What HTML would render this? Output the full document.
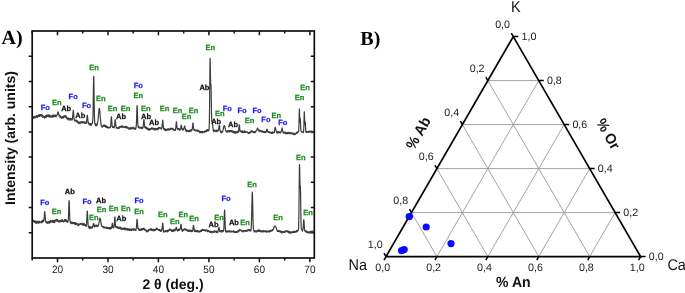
<!DOCTYPE html>
<html><head><meta charset="utf-8"><style>
html,body{margin:0;padding:0;background:#fff;width:685px;height:293px;overflow:hidden}
svg{display:block;will-change:transform}
text{font-family:"Liberation Sans",sans-serif;text-rendering:geometricPrecision}
.tl{font-size:10.6px;fill:#1a1a1a;text-anchor:middle}
.ax{font-size:14px;font-weight:bold;fill:#111;text-anchor:middle}
.tx{font-size:14.8px}
.pl{font-family:"Liberation Serif",serif;font-size:20px;font-weight:bold;fill:#000}
.pk{font-size:7.5px;font-weight:bold;text-anchor:middle;stroke-width:0.25}
.tt{font-size:10.7px;fill:#1a1a1a;text-anchor:middle}
.cn{font-size:15.5px;fill:#111;text-anchor:middle}
</style></head><body>
<svg width="685" height="293" viewBox="0 0 685 293">
<rect x="32.2" y="31.0" width="282.1" height="227.0" fill="none" stroke="#111" stroke-width="1.7"/>
<path d="M32.2 258.0v2.4 M32.2 31.0v2.4 M57.5 258.0v4.2 M57.5 31.0v4.2 M82.7 258.0v2.4 M82.7 31.0v2.4 M108.0 258.0v4.2 M108.0 31.0v4.2 M133.2 258.0v2.4 M133.2 31.0v2.4 M158.4 258.0v4.2 M158.4 31.0v4.2 M183.7 258.0v2.4 M183.7 31.0v2.4 M208.9 258.0v4.2 M208.9 31.0v4.2 M234.2 258.0v2.4 M234.2 31.0v2.4 M259.4 258.0v4.2 M259.4 31.0v4.2 M284.7 258.0v2.4 M284.7 31.0v2.4 M309.9 258.0v4.2 M309.9 31.0v4.2 M32.2 232.8h-3.5 M314.3 232.8h-3.5 M32.2 207.6h-3.5 M314.3 207.6h-3.5 M32.2 182.3h-3.5 M314.3 182.3h-3.5 M32.2 157.1h-3.5 M314.3 157.1h-3.5 M32.2 131.9h-3.5 M314.3 131.9h-3.5 M32.2 106.7h-3.5 M314.3 106.7h-3.5 M32.2 81.4h-3.5 M314.3 81.4h-3.5 M32.2 56.2h-3.5 M314.3 56.2h-3.5" stroke="#111" stroke-width="1.5" fill="none"/>
<text transform="translate(57.5 272.5) scale(0.95 1)" class="tl">20</text>
<text transform="translate(108.0 272.5) scale(0.95 1)" class="tl">30</text>
<text transform="translate(158.4 272.5) scale(0.95 1)" class="tl">40</text>
<text transform="translate(208.9 272.5) scale(0.95 1)" class="tl">50</text>
<text transform="translate(259.4 272.5) scale(0.95 1)" class="tl">60</text>
<text transform="translate(309.9 272.5) scale(0.95 1)" class="tl">70</text>
<text x="173" y="289.3" class="ax">2 θ (deg.)</text>
<text transform="translate(15.4 138) rotate(-90)" class="ax">Intensity (arb. units)</text>
<text x="1.5" y="44.1" class="pl">A)</text>
<text x="360.3" y="45" class="pl">B)</text>
<path d="M33.00 117.68 L33.17 118.32 L33.34 118.06 L33.51 116.84 L33.68 117.01 L33.85 118.28 L34.02 116.33 L34.19 118.09 L34.36 117.97 L34.53 117.17 L34.70 116.73 L34.87 116.58 L35.04 116.42 L35.21 116.73 L35.38 116.76 L35.55 116.79 L35.72 117.68 L35.89 117.18 L36.06 116.77 L36.23 117.53 L36.40 115.80 L36.57 115.65 L36.74 116.60 L36.91 115.34 L37.08 115.31 L37.25 116.38 L37.42 116.28 L37.59 117.31 L37.76 116.64 L37.93 116.38 L38.10 116.30 L38.27 115.73 L38.44 115.13 L38.61 115.44 L38.78 116.44 L38.95 115.25 L39.12 115.52 L39.29 114.61 L39.46 116.36 L39.63 114.78 L39.80 114.92 L39.97 116.18 L40.14 115.31 L40.31 115.98 L40.48 115.52 L40.65 115.71 L40.82 114.26 L40.99 115.27 L41.16 115.22 L41.33 116.06 L41.50 115.02 L41.67 115.61 L41.84 114.55 L42.01 115.41 L42.18 115.38 L42.35 115.14 L42.52 116.73 L42.69 115.92 L42.86 117.34 L43.03 116.66 L43.20 116.82 L43.37 117.02 L43.54 117.24 L43.71 116.20 L43.88 116.94 L44.05 116.55 L44.22 116.95 L44.39 116.30 L44.56 118.16 L44.73 116.49 L44.90 117.40 L45.07 116.53 L45.24 117.67 L45.41 117.09 L45.58 115.82 L45.75 117.22 L45.92 117.30 L46.09 117.11 L46.26 116.25 L46.43 115.20 L46.60 115.24 L46.77 116.73 L46.94 115.85 L47.11 114.99 L47.28 116.45 L47.45 115.93 L47.62 115.78 L47.79 115.38 L47.96 115.45 L48.13 115.14 L48.30 114.76 L48.47 116.61 L48.64 115.81 L48.81 116.02 L48.98 115.58 L49.15 116.53 L49.32 115.02 L49.49 115.81 L49.66 115.08 L49.83 115.35 L50.00 117.18 L50.17 116.55 L50.34 116.06 L50.51 116.30 L50.68 117.04 L50.85 115.92 L51.02 116.43 L51.19 116.65 L51.36 115.94 L51.53 116.29 L51.70 116.84 L51.87 117.13 L52.04 115.52 L52.21 117.20 L52.38 115.21 L52.55 116.81 L52.72 116.90 L52.89 115.45 L53.06 116.05 L53.23 116.86 L53.40 115.11 L53.57 116.37 L53.74 116.67 L53.91 116.03 L54.08 116.45 L54.25 115.34 L54.42 115.27 L54.59 115.58 L54.76 115.10 L54.93 115.44 L55.10 116.65 L55.27 115.87 L55.44 115.38 L55.61 115.20 L55.78 116.57 L55.95 115.47 L56.12 116.58 L56.29 115.51 L56.46 115.43 L56.63 116.08 L56.80 115.58 L56.97 114.97 L57.14 114.30 L57.31 114.39 L57.48 113.13 L57.65 112.74 L57.82 111.93 L57.99 111.80 L58.00 111.80 L58.16 112.06 L58.33 112.42 L58.50 113.51 L58.67 114.16 L58.84 114.86 L59.01 115.17 L59.18 116.22 L59.35 115.22 L59.52 115.55 L59.69 115.38 L59.86 115.28 L60.03 115.76 L60.20 117.40 L60.37 117.39 L60.54 116.06 L60.71 117.25 L60.88 117.11 L61.05 117.45 L61.22 117.68 L61.39 117.05 L61.56 118.44 L61.73 117.48 L61.90 117.82 L62.07 117.82 L62.24 116.87 L62.41 116.60 L62.58 117.25 L62.75 117.92 L62.92 117.95 L63.09 117.70 L63.26 116.31 L63.43 117.87 L63.60 117.52 L63.77 117.60 L63.94 116.75 L64.11 117.49 L64.28 115.65 L64.45 115.56 L64.62 115.53 L64.79 116.00 L64.96 115.96 L65.13 115.88 L65.30 116.73 L65.47 115.73 L65.64 116.97 L65.81 116.20 L65.98 117.38 L66.15 116.20 L66.32 116.97 L66.49 118.42 L66.66 117.78 L66.83 118.53 L67.00 118.39 L67.17 118.47 L67.34 117.79 L67.51 118.72 L67.68 117.78 L67.85 119.44 L68.02 119.88 L68.19 119.77 L68.36 118.21 L68.53 118.85 L68.70 118.86 L68.87 118.47 L69.04 119.54 L69.21 119.90 L69.38 118.92 L69.55 119.99 L69.72 119.83 L69.89 118.45 L70.06 119.77 L70.23 120.03 L70.40 118.66 L70.57 119.45 L70.74 119.58 L70.91 119.56 L71.08 118.54 L71.25 119.67 L71.42 119.64 L71.59 120.05 L71.76 120.02 L71.93 119.04 L72.10 119.79 L72.27 119.87 L72.44 119.40 L72.61 117.08 L72.78 115.23 L72.95 113.54 L73.12 111.18 L73.29 110.29 L73.30 110.29 L73.46 111.15 L73.63 113.23 L73.80 115.85 L73.97 118.14 L74.14 118.40 L74.31 119.55 L74.48 119.38 L74.65 120.62 L74.82 121.08 L74.99 120.27 L75.16 120.33 L75.33 120.75 L75.50 120.19 L75.67 120.33 L75.84 120.57 L76.01 120.88 L76.18 120.21 L76.35 121.64 L76.52 121.34 L76.69 120.85 L76.86 120.50 L77.03 122.00 L77.20 120.84 L77.37 121.00 L77.54 121.12 L77.71 121.17 L77.88 122.96 L78.05 121.86 L78.22 122.07 L78.39 123.23 L78.56 122.92 L78.73 122.18 L78.90 122.73 L79.07 123.68 L79.24 122.70 L79.41 123.39 L79.58 122.18 L79.75 123.42 L79.92 123.48 L80.09 123.52 L80.26 123.16 L80.43 122.49 L80.60 121.84 L80.77 122.60 L80.94 122.98 L81.11 121.77 L81.28 121.86 L81.45 122.28 L81.62 122.63 L81.79 122.85 L81.96 121.30 L82.13 121.38 L82.30 122.54 L82.47 122.24 L82.64 122.36 L82.81 122.91 L82.98 122.82 L83.15 122.68 L83.32 122.56 L83.49 121.88 L83.66 122.43 L83.83 121.58 L84.00 122.74 L84.17 122.85 L84.34 122.89 L84.51 122.44 L84.68 122.38 L84.85 122.53 L85.02 121.86 L85.19 123.49 L85.36 122.97 L85.53 122.71 L85.70 123.02 L85.87 123.36 L86.04 122.70 L86.21 123.43 L86.38 123.25 L86.55 121.59 L86.72 119.97 L86.89 118.78 L87.06 116.73 L87.23 115.27 L87.30 115.16 L87.40 115.47 L87.57 117.14 L87.74 118.64 L87.91 120.26 L88.08 122.89 L88.25 122.10 L88.42 122.56 L88.59 123.52 L88.76 123.42 L88.93 124.18 L89.10 123.26 L89.27 124.81 L89.44 123.61 L89.61 124.78 L89.78 123.55 L89.95 124.43 L90.12 123.64 L90.29 124.23 L90.46 124.24 L90.63 125.04 L90.80 124.52 L90.97 123.69 L91.14 125.44 L91.31 125.16 L91.48 125.11 L91.65 123.70 L91.82 123.86 L91.99 123.43 L92.16 123.06 L92.33 122.64 L92.50 123.10 L92.67 121.35 L92.84 118.89 L93.01 114.55 L93.18 104.77 L93.35 92.46 L93.52 81.40 L93.69 76.26 L93.70 76.24 L93.86 80.36 L94.03 91.33 L94.20 103.82 L94.37 113.47 L94.54 119.16 L94.71 122.81 L94.88 124.22 L95.05 123.45 L95.22 123.62 L95.39 123.78 L95.56 125.59 L95.73 125.63 L95.90 124.38 L96.07 125.87 L96.24 124.47 L96.41 125.03 L96.58 125.00 L96.75 125.72 L96.92 123.94 L97.09 124.21 L97.26 124.35 L97.43 122.85 L97.60 122.35 L97.77 121.66 L97.94 120.88 L98.11 119.08 L98.28 117.24 L98.45 115.13 L98.62 113.07 L98.79 111.25 L98.96 109.68 L99.13 108.69 L99.30 108.36 L99.30 108.36 L99.47 108.76 L99.64 109.74 L99.81 111.51 L99.98 113.37 L100.15 115.29 L100.32 117.96 L100.49 119.10 L100.66 121.27 L100.83 122.10 L101.00 124.64 L101.17 124.88 L101.34 125.92 L101.51 125.45 L101.68 126.66 L101.85 126.62 L102.02 126.60 L102.19 127.17 L102.36 126.18 L102.53 126.10 L102.70 126.53 L102.87 126.76 L103.04 125.73 L103.21 126.28 L103.38 125.35 L103.55 125.91 L103.72 126.22 L103.89 124.86 L104.06 126.10 L104.23 124.75 L104.40 126.52 L104.57 125.65 L104.74 125.61 L104.91 126.28 L105.08 126.03 L105.25 126.54 L105.42 125.45 L105.59 126.50 L105.76 126.61 L105.93 127.38 L106.10 125.84 L106.27 126.71 L106.44 127.16 L106.61 127.09 L106.78 126.27 L106.95 127.29 L107.12 126.67 L107.29 126.64 L107.46 127.94 L107.63 126.70 L107.80 127.19 L107.97 127.77 L108.14 127.67 L108.31 127.40 L108.48 127.88 L108.65 127.24 L108.82 127.58 L108.99 128.00 L109.16 127.75 L109.33 127.68 L109.50 127.27 L109.67 127.58 L109.84 127.28 L110.01 127.90 L110.18 127.15 L110.35 127.11 L110.52 127.08 L110.69 125.51 L110.86 123.31 L111.03 121.04 L111.20 118.15 L111.37 116.81 L111.40 116.77 L111.54 117.49 L111.71 119.92 L111.88 122.07 L112.05 124.60 L112.22 126.72 L112.39 126.93 L112.56 127.14 L112.73 127.41 L112.90 127.47 L113.07 127.31 L113.24 127.02 L113.41 126.59 L113.58 126.80 L113.75 126.81 L113.92 127.04 L114.09 128.01 L114.26 126.65 L114.43 126.23 L114.60 124.95 L114.77 123.37 L114.94 121.42 L115.11 119.82 L115.20 119.57 L115.28 119.75 L115.45 121.33 L115.62 123.30 L115.79 125.47 L115.96 125.88 L116.13 127.89 L116.30 127.22 L116.47 127.67 L116.64 127.25 L116.81 127.66 L116.98 128.47 L117.15 128.49 L117.32 127.85 L117.49 128.44 L117.66 127.89 L117.83 127.78 L118.00 128.11 L118.17 127.49 L118.34 127.67 L118.51 128.40 L118.68 128.47 L118.85 127.12 L119.02 128.28 L119.19 128.33 L119.36 127.53 L119.53 126.72 L119.70 127.76 L119.87 126.85 L120.04 127.44 L120.21 126.83 L120.38 127.22 L120.55 126.43 L120.72 126.79 L120.89 126.83 L121.06 126.99 L121.23 126.15 L121.40 127.51 L121.57 126.24 L121.74 126.28 L121.91 126.18 L122.08 125.88 L122.25 126.52 L122.42 127.18 L122.59 127.12 L122.76 126.21 L122.93 126.14 L123.10 126.49 L123.27 127.34 L123.44 126.84 L123.61 127.65 L123.78 127.14 L123.95 127.07 L124.12 127.36 L124.29 127.40 L124.46 126.68 L124.63 126.57 L124.80 126.93 L124.97 127.04 L125.14 126.43 L125.31 127.02 L125.48 127.40 L125.65 126.56 L125.82 126.57 L125.99 126.66 L126.16 126.91 L126.33 128.19 L126.50 126.57 L126.67 126.94 L126.84 126.97 L127.01 127.58 L127.18 126.82 L127.35 127.65 L127.52 127.19 L127.69 127.47 L127.86 128.48 L128.03 127.48 L128.20 128.33 L128.37 128.03 L128.54 128.10 L128.71 128.90 L128.88 127.81 L129.05 129.26 L129.22 129.27 L129.39 128.87 L129.56 127.74 L129.73 128.88 L129.90 128.74 L130.07 129.01 L130.24 127.99 L130.41 129.24 L130.58 129.02 L130.75 127.53 L130.92 127.78 L131.09 127.22 L131.26 128.56 L131.43 128.62 L131.60 128.68 L131.77 127.96 L131.94 127.99 L132.11 128.02 L132.28 127.85 L132.45 128.56 L132.62 128.02 L132.79 127.59 L132.96 127.99 L133.13 127.18 L133.30 128.56 L133.47 128.63 L133.64 128.23 L133.81 129.11 L133.98 129.02 L134.15 128.31 L134.32 127.88 L134.49 127.98 L134.66 128.11 L134.83 128.33 L135.00 128.55 L135.17 129.37 L135.34 128.14 L135.51 129.12 L135.68 128.64 L135.85 128.74 L136.02 127.52 L136.19 125.84 L136.36 124.92 L136.53 120.31 L136.70 114.87 L136.87 109.51 L137.04 105.89 L137.10 105.59 L137.21 106.51 L137.38 111.12 L137.55 116.52 L137.72 121.95 L137.89 124.30 L138.06 127.02 L138.23 126.52 L138.40 127.45 L138.57 126.66 L138.74 127.60 L138.91 128.12 L139.08 126.79 L139.25 127.14 L139.42 128.02 L139.59 127.76 L139.76 127.22 L139.93 127.75 L140.10 127.47 L140.27 128.23 L140.44 127.26 L140.61 128.13 L140.78 127.93 L140.95 128.18 L141.12 127.58 L141.29 128.21 L141.46 128.19 L141.63 127.67 L141.80 127.06 L141.97 128.74 L142.14 128.31 L142.31 127.43 L142.48 128.31 L142.65 127.47 L142.82 127.63 L142.99 127.91 L143.16 126.45 L143.33 124.82 L143.50 122.89 L143.67 120.82 L143.84 119.68 L143.90 119.59 L144.01 119.91 L144.18 121.31 L144.35 123.49 L144.52 124.88 L144.69 126.72 L144.86 127.63 L145.03 126.82 L145.20 127.44 L145.37 127.41 L145.54 126.77 L145.71 126.95 L145.88 128.38 L146.05 127.74 L146.22 128.46 L146.39 127.29 L146.56 128.32 L146.73 128.93 L146.90 129.05 L147.07 127.65 L147.24 128.65 L147.41 128.52 L147.58 129.35 L147.75 128.24 L147.92 128.69 L148.09 129.70 L148.26 129.14 L148.43 129.19 L148.60 130.16 L148.77 129.08 L148.94 128.62 L149.11 129.24 L149.28 128.82 L149.45 128.66 L149.62 129.45 L149.79 130.08 L149.96 129.40 L150.13 129.46 L150.30 128.81 L150.47 129.15 L150.64 129.32 L150.81 128.93 L150.98 129.22 L151.15 128.74 L151.32 128.09 L151.49 128.70 L151.66 128.53 L151.83 127.97 L152.00 128.77 L152.17 129.11 L152.34 127.94 L152.51 128.67 L152.68 129.03 L152.85 128.52 L153.02 128.34 L153.19 128.56 L153.36 128.93 L153.53 129.24 L153.70 129.06 L153.87 128.31 L154.04 129.60 L154.21 129.84 L154.38 128.47 L154.55 128.77 L154.72 128.67 L154.89 129.84 L155.06 129.94 L155.23 128.42 L155.40 128.92 L155.57 128.70 L155.74 129.18 L155.91 129.97 L156.08 128.49 L156.25 128.62 L156.42 129.13 L156.59 129.17 L156.76 129.49 L156.93 128.91 L157.10 128.34 L157.27 128.64 L157.44 129.67 L157.61 129.22 L157.78 128.08 L157.95 129.19 L158.12 128.25 L158.29 128.99 L158.46 127.62 L158.63 129.04 L158.80 127.78 L158.97 128.25 L159.14 128.57 L159.31 128.26 L159.48 127.68 L159.65 127.63 L159.82 127.89 L159.99 127.51 L160.16 127.82 L160.33 127.76 L160.50 128.37 L160.67 128.25 L160.84 128.70 L161.01 128.21 L161.18 127.85 L161.35 128.36 L161.52 129.08 L161.69 128.09 L161.86 127.86 L162.03 127.33 L162.20 125.14 L162.37 123.18 L162.54 121.02 L162.70 120.20 L162.71 120.20 L162.88 121.11 L163.05 123.03 L163.22 125.42 L163.39 127.32 L163.56 128.86 L163.73 128.09 L163.90 129.25 L164.07 128.98 L164.24 128.49 L164.41 130.01 L164.58 129.64 L164.75 128.79 L164.92 130.23 L165.09 128.99 L165.26 129.05 L165.43 129.53 L165.60 130.62 L165.77 129.15 L165.94 130.68 L166.11 130.17 L166.28 129.22 L166.45 130.03 L166.62 129.73 L166.79 129.83 L166.96 130.05 L167.13 129.81 L167.30 130.24 L167.47 128.73 L167.64 129.76 L167.81 129.04 L167.98 129.62 L168.15 129.78 L168.32 129.93 L168.49 128.72 L168.66 129.09 L168.83 129.95 L169.00 129.99 L169.17 129.07 L169.34 130.07 L169.51 129.21 L169.68 129.14 L169.85 129.76 L170.02 129.23 L170.19 129.13 L170.36 128.95 L170.53 128.98 L170.70 128.39 L170.87 128.18 L171.04 129.25 L171.21 128.86 L171.38 128.99 L171.55 129.16 L171.72 128.18 L171.89 128.19 L172.06 128.28 L172.23 128.36 L172.40 129.24 L172.57 128.69 L172.74 128.72 L172.91 129.38 L173.08 128.75 L173.25 128.79 L173.42 129.93 L173.59 130.14 L173.76 129.52 L173.93 130.20 L174.10 129.30 L174.27 130.00 L174.44 130.32 L174.61 129.84 L174.78 130.02 L174.95 130.45 L175.12 130.38 L175.29 129.53 L175.46 130.10 L175.63 128.44 L175.80 128.20 L175.97 125.44 L176.14 123.43 L176.31 122.00 L176.40 121.79 L176.48 121.96 L176.65 123.38 L176.82 125.70 L176.99 127.63 L177.16 127.63 L177.33 128.92 L177.50 129.28 L177.67 129.51 L177.84 128.95 L178.01 128.95 L178.18 128.43 L178.35 128.52 L178.52 129.42 L178.69 128.70 L178.86 128.98 L179.03 129.28 L179.20 128.93 L179.37 128.96 L179.54 130.49 L179.71 129.69 L179.88 129.34 L180.05 130.15 L180.22 128.91 L180.39 129.00 L180.56 129.25 L180.73 128.00 L180.90 126.49 L181.07 125.40 L181.20 125.18 L181.24 125.20 L181.41 125.76 L181.58 126.60 L181.75 127.55 L181.92 128.88 L182.09 128.50 L182.26 128.74 L182.43 130.01 L182.60 129.13 L182.77 129.16 L182.94 128.79 L183.11 130.00 L183.28 129.84 L183.45 129.64 L183.62 129.69 L183.79 128.72 L183.96 128.50 L184.13 128.06 L184.30 127.21 L184.47 126.23 L184.60 125.98 L184.64 126.01 L184.81 126.46 L184.98 127.85 L185.15 128.18 L185.32 128.90 L185.49 130.17 L185.66 130.62 L185.83 130.76 L186.00 130.35 L186.17 129.98 L186.34 129.87 L186.51 131.27 L186.68 131.56 L186.85 130.41 L187.02 131.52 L187.19 130.83 L187.36 130.74 L187.53 131.09 L187.70 130.33 L187.87 131.06 L188.04 130.67 L188.21 131.48 L188.38 131.12 L188.55 131.69 L188.72 131.73 L188.89 130.74 L189.06 130.65 L189.23 131.71 L189.40 130.97 L189.57 130.28 L189.74 130.15 L189.91 131.62 L190.08 130.90 L190.25 130.02 L190.42 130.69 L190.59 130.62 L190.76 130.45 L190.93 131.22 L191.10 131.09 L191.27 129.68 L191.44 129.66 L191.61 129.98 L191.78 130.55 L191.95 130.01 L192.12 129.81 L192.29 128.78 L192.46 127.05 L192.63 125.75 L192.80 123.71 L192.97 122.91 L193.00 122.89 L193.14 123.38 L193.31 125.19 L193.48 126.92 L193.65 127.91 L193.82 129.36 L193.99 130.24 L194.16 129.52 L194.33 129.94 L194.50 129.60 L194.67 130.45 L194.84 130.22 L195.01 130.43 L195.18 130.12 L195.35 130.65 L195.52 129.85 L195.69 131.00 L195.86 131.06 L196.03 130.32 L196.20 130.29 L196.37 130.92 L196.54 130.02 L196.71 130.84 L196.88 130.02 L197.05 130.80 L197.22 130.22 L197.39 130.70 L197.56 131.29 L197.73 130.01 L197.90 131.30 L198.07 130.99 L198.24 130.80 L198.41 130.85 L198.58 130.51 L198.75 130.93 L198.92 131.62 L199.09 130.87 L199.26 131.87 L199.43 132.41 L199.60 132.52 L199.77 132.46 L199.94 132.39 L200.11 131.42 L200.28 132.74 L200.45 131.54 L200.62 132.66 L200.79 132.70 L200.96 132.30 L201.13 132.18 L201.30 131.64 L201.47 132.16 L201.64 131.83 L201.81 131.58 L201.98 131.62 L202.15 132.70 L202.32 132.86 L202.49 131.59 L202.66 131.36 L202.83 131.73 L203.00 131.47 L203.17 131.53 L203.34 132.16 L203.51 131.89 L203.68 131.90 L203.85 131.47 L204.02 132.14 L204.19 131.48 L204.36 131.61 L204.53 131.66 L204.70 132.33 L204.87 131.21 L205.04 131.90 L205.21 131.17 L205.38 132.01 L205.55 131.13 L205.72 131.22 L205.89 131.73 L206.06 131.34 L206.23 130.31 L206.40 130.26 L206.57 131.51 L206.74 129.92 L206.91 130.29 L207.08 131.27 L207.25 129.71 L207.42 129.95 L207.59 129.99 L207.76 129.80 L207.93 130.43 L208.10 130.63 L208.27 130.19 L208.44 129.85 L208.61 130.86 L208.78 130.71 L208.95 129.87 L209.12 127.85 L209.29 124.68 L209.46 116.16 L209.63 100.80 L209.80 81.27 L209.97 63.91 L210.10 58.29 L210.14 58.29 L210.31 65.81 L210.48 77.75 L210.65 84.33 L210.82 84.22 L210.99 84.41 L211.00 84.59 L211.16 90.89 L211.33 102.26 L211.50 113.26 L211.67 119.07 L211.84 121.47 L212.01 121.41 L212.18 121.19 L212.20 121.22 L212.35 121.88 L212.52 123.48 L212.69 125.37 L212.86 127.85 L213.03 128.68 L213.20 130.12 L213.37 130.24 L213.54 131.32 L213.71 131.46 L213.88 130.06 L214.05 131.59 L214.22 130.99 L214.39 130.13 L214.56 130.80 L214.73 130.04 L214.90 130.83 L215.07 130.24 L215.24 130.55 L215.41 130.48 L215.58 130.97 L215.75 131.33 L215.92 131.55 L216.09 130.59 L216.26 130.97 L216.43 130.08 L216.60 130.64 L216.77 131.55 L216.94 130.23 L217.11 131.35 L217.28 130.95 L217.45 130.34 L217.62 131.07 L217.79 130.25 L217.96 131.14 L218.13 129.75 L218.30 129.63 L218.47 130.20 L218.64 129.11 L218.81 127.73 L218.98 126.71 L219.15 125.52 L219.30 125.14 L219.32 125.15 L219.49 125.87 L219.66 126.93 L219.83 128.78 L220.00 130.52 L220.17 130.64 L220.34 131.57 L220.51 130.81 L220.68 132.24 L220.85 131.95 L221.02 132.56 L221.19 132.55 L221.36 132.81 L221.53 131.62 L221.70 132.67 L221.87 131.87 L222.04 131.92 L222.21 131.92 L222.38 132.10 L222.55 131.84 L222.72 131.80 L222.89 130.14 L223.06 129.73 L223.23 129.20 L223.40 128.73 L223.57 127.71 L223.74 126.91 L223.91 126.30 L224.08 125.81 L224.25 125.59 L224.30 125.58 L224.42 125.65 L224.59 126.01 L224.76 126.52 L224.93 127.01 L225.10 127.90 L225.27 128.60 L225.44 129.45 L225.61 130.08 L225.78 131.01 L225.95 130.65 L226.12 131.04 L226.29 131.51 L226.46 132.02 L226.63 131.81 L226.80 131.46 L226.97 131.96 L227.14 131.39 L227.31 132.10 L227.48 131.03 L227.65 130.73 L227.82 131.78 L227.99 130.93 L228.16 131.75 L228.33 131.34 L228.50 131.17 L228.67 130.53 L228.84 131.63 L229.01 130.50 L229.18 131.91 L229.35 131.78 L229.52 130.89 L229.69 130.60 L229.86 131.81 L230.03 131.16 L230.20 130.58 L230.37 131.14 L230.54 130.74 L230.71 130.98 L230.88 131.32 L231.05 131.75 L231.22 131.57 L231.39 130.57 L231.56 131.10 L231.73 131.16 L231.90 131.98 L232.07 130.62 L232.24 131.36 L232.41 132.07 L232.58 131.30 L232.75 131.15 L232.92 131.71 L233.09 131.43 L233.26 132.44 L233.43 131.22 L233.60 131.48 L233.77 131.35 L233.94 132.39 L234.11 131.81 L234.28 132.83 L234.45 132.90 L234.62 133.02 L234.79 131.98 L234.96 131.58 L235.13 132.22 L235.30 133.13 L235.47 132.83 L235.64 131.71 L235.81 132.69 L235.98 133.01 L236.15 133.06 L236.32 132.59 L236.49 132.75 L236.66 132.65 L236.83 131.82 L237.00 131.34 L237.17 132.28 L237.34 131.31 L237.51 131.63 L237.68 132.55 L237.85 131.86 L238.02 131.78 L238.19 132.37 L238.36 131.15 L238.53 131.61 L238.70 130.31 L238.87 128.09 L239.04 126.27 L239.21 124.98 L239.30 124.79 L239.38 124.95 L239.55 126.07 L239.72 128.36 L239.89 129.88 L240.06 131.10 L240.23 131.75 L240.40 130.94 L240.57 131.04 L240.74 131.66 L240.91 130.94 L241.08 131.61 L241.25 131.96 L241.42 131.81 L241.59 131.74 L241.76 130.89 L241.93 131.21 L242.10 132.30 L242.27 131.14 L242.44 131.82 L242.61 131.13 L242.78 132.58 L242.95 131.39 L243.12 131.78 L243.29 131.98 L243.46 132.24 L243.63 132.57 L243.80 132.20 L243.97 131.58 L244.14 131.10 L244.31 132.03 L244.48 132.43 L244.65 130.90 L244.82 132.03 L244.99 131.07 L245.16 131.44 L245.33 131.57 L245.50 131.70 L245.67 132.32 L245.84 131.89 L246.01 131.50 L246.18 132.06 L246.35 131.76 L246.52 131.75 L246.69 131.81 L246.86 132.12 L247.03 131.87 L247.20 131.91 L247.37 131.89 L247.54 132.44 L247.71 132.31 L247.88 133.25 L248.05 133.33 L248.22 132.61 L248.39 133.08 L248.56 133.52 L248.73 132.69 L248.90 132.96 L249.07 132.74 L249.24 132.98 L249.41 133.40 L249.58 132.02 L249.75 133.21 L249.92 132.60 L250.09 132.69 L250.26 132.29 L250.43 132.54 L250.60 131.55 L250.77 132.01 L250.94 131.21 L251.11 131.51 L251.28 131.72 L251.45 130.93 L251.62 130.68 L251.79 131.84 L251.96 131.89 L252.13 131.68 L252.30 131.23 L252.47 131.85 L252.64 131.05 L252.81 132.06 L252.98 132.03 L253.15 132.17 L253.32 132.04 L253.49 131.80 L253.66 132.65 L253.83 132.33 L254.00 132.79 L254.17 132.21 L254.34 131.74 L254.51 132.39 L254.68 132.43 L254.85 132.81 L255.02 132.64 L255.19 131.25 L255.36 132.23 L255.53 131.28 L255.70 131.78 L255.87 131.11 L256.04 130.85 L256.21 130.91 L256.38 130.80 L256.55 130.83 L256.72 130.41 L256.89 129.97 L257.06 129.09 L257.23 128.60 L257.40 128.07 L257.50 128.00 L257.57 128.03 L257.74 128.42 L257.91 128.65 L258.08 129.56 L258.25 129.61 L258.42 130.03 L258.59 129.68 L258.76 130.66 L258.93 131.10 L259.10 130.34 L259.27 130.04 L259.44 130.94 L259.61 130.25 L259.78 131.50 L259.95 130.35 L260.12 130.77 L260.29 131.05 L260.46 130.50 L260.63 130.89 L260.80 130.87 L260.97 131.59 L261.14 132.05 L261.31 131.12 L261.48 131.76 L261.65 130.76 L261.82 131.49 L261.99 131.26 L262.16 131.00 L262.33 131.85 L262.50 131.79 L262.67 130.82 L262.84 131.08 L263.01 131.92 L263.18 132.25 L263.35 131.70 L263.52 132.19 L263.69 132.45 L263.86 132.15 L264.03 132.07 L264.20 131.46 L264.37 131.75 L264.54 132.19 L264.71 132.67 L264.88 131.75 L265.05 131.89 L265.22 131.31 L265.39 132.36 L265.56 131.90 L265.73 132.41 L265.90 131.46 L266.07 131.94 L266.24 131.66 L266.41 130.91 L266.58 130.07 L266.75 129.58 L266.92 129.16 L267.00 129.09 L267.09 129.15 L267.26 129.62 L267.43 130.09 L267.60 131.21 L267.77 131.72 L267.94 132.20 L268.11 132.19 L268.28 131.97 L268.45 131.31 L268.62 132.34 L268.79 132.27 L268.96 132.36 L269.13 132.36 L269.30 132.64 L269.47 131.91 L269.64 132.58 L269.81 132.43 L269.98 132.21 L270.15 132.28 L270.32 132.10 L270.49 132.66 L270.66 132.52 L270.83 132.62 L271.00 133.31 L271.17 133.05 L271.34 133.03 L271.51 133.50 L271.68 132.28 L271.85 132.70 L272.02 132.07 L272.19 132.50 L272.36 133.33 L272.53 131.94 L272.70 132.98 L272.87 133.10 L273.04 132.60 L273.21 133.01 L273.38 132.51 L273.55 132.41 L273.72 132.67 L273.89 132.14 L274.06 132.22 L274.23 131.99 L274.40 132.45 L274.57 130.90 L274.74 129.82 L274.91 129.08 L275.08 127.80 L275.25 127.33 L275.30 127.29 L275.42 127.48 L275.59 128.20 L275.76 129.09 L275.93 129.93 L276.10 130.65 L276.27 131.45 L276.44 131.85 L276.61 132.76 L276.78 132.28 L276.95 133.00 L277.12 132.62 L277.29 131.77 L277.46 132.46 L277.63 131.93 L277.80 131.75 L277.97 133.12 L278.14 132.15 L278.31 131.94 L278.48 131.78 L278.65 132.62 L278.82 132.30 L278.99 131.61 L279.16 132.65 L279.33 131.93 L279.50 132.71 L279.67 132.28 L279.84 132.35 L280.01 132.21 L280.18 132.55 L280.35 133.03 L280.52 132.72 L280.69 131.60 L280.86 132.25 L281.03 131.83 L281.20 131.51 L281.37 131.27 L281.54 130.65 L281.71 130.11 L281.88 128.76 L282.05 128.04 L282.10 127.99 L282.22 128.21 L282.39 129.13 L282.56 130.32 L282.73 131.15 L282.90 131.93 L283.07 132.77 L283.24 131.89 L283.41 132.24 L283.58 132.60 L283.75 132.93 L283.92 132.92 L284.09 133.08 L284.26 132.19 L284.43 132.30 L284.60 132.52 L284.77 132.47 L284.94 133.23 L285.11 133.63 L285.28 133.18 L285.45 132.21 L285.62 132.69 L285.79 133.50 L285.96 133.71 L286.13 133.22 L286.30 132.85 L286.47 132.86 L286.64 133.28 L286.81 133.66 L286.98 132.87 L287.15 132.65 L287.32 132.34 L287.49 132.51 L287.66 133.59 L287.83 133.20 L288.00 133.76 L288.17 132.34 L288.34 132.81 L288.51 133.45 L288.68 133.23 L288.85 132.30 L289.02 132.82 L289.19 133.19 L289.36 133.28 L289.53 132.92 L289.70 132.56 L289.87 133.83 L290.04 133.11 L290.21 133.54 L290.38 133.29 L290.55 132.60 L290.72 132.90 L290.89 132.65 L291.06 132.88 L291.23 132.95 L291.40 133.35 L291.57 133.22 L291.74 133.30 L291.91 134.02 L292.08 132.79 L292.25 132.92 L292.42 134.01 L292.59 133.63 L292.76 133.52 L292.93 133.28 L293.10 133.75 L293.27 133.29 L293.44 134.31 L293.61 134.28 L293.78 133.58 L293.95 133.17 L294.12 134.55 L294.29 133.67 L294.46 134.24 L294.63 134.54 L294.80 134.47 L294.97 134.55 L295.14 133.88 L295.31 134.37 L295.48 133.73 L295.65 133.35 L295.82 133.57 L295.99 133.22 L296.16 133.74 L296.33 133.67 L296.50 132.42 L296.67 132.27 L296.84 132.48 L297.01 132.47 L297.18 133.09 L297.35 132.93 L297.52 132.85 L297.69 132.38 L297.86 132.19 L298.03 131.45 L298.20 131.52 L298.37 130.84 L298.54 131.82 L298.71 130.04 L298.88 126.92 L299.05 121.13 L299.22 113.31 L299.39 108.98 L299.40 108.96 L299.56 112.01 L299.73 118.91 L299.90 122.46 L300.07 121.09 L300.24 118.74 L300.30 118.59 L300.41 119.76 L300.58 124.07 L300.75 128.17 L300.92 130.11 L301.09 131.14 L301.26 131.71 L301.43 131.78 L301.60 131.44 L301.77 132.03 L301.94 132.13 L302.11 131.90 L302.28 132.10 L302.45 132.05 L302.62 132.13 L302.79 132.45 L302.96 132.23 L303.13 131.72 L303.30 132.52 L303.47 131.83 L303.64 130.67 L303.81 127.93 L303.98 121.86 L304.15 114.75 L304.30 111.80 L304.32 111.84 L304.49 115.78 L304.66 121.40 L304.83 124.59 L305.00 123.11 L305.17 121.64 L305.20 121.64 L305.34 123.02 L305.51 126.29 L305.68 129.97 L305.85 131.79 L306.02 132.38 L306.19 131.55 L306.36 132.35 L306.53 132.65 L306.70 131.40 L306.87 131.61 L307.04 131.70 L307.21 131.95 L307.38 131.48 L307.55 132.03 L307.72 131.73 L307.89 132.18 L308.06 131.99 L308.23 132.19 L308.40 131.47 L308.57 132.16 L308.74 132.15 L308.91 132.09 L309.08 131.05 L309.25 132.38 L309.42 131.75 L309.59 131.27 L309.76 131.51 L309.93 131.63 L310.10 131.62 L310.27 131.21 L310.44 131.24 L310.61 131.39 L310.78 132.05 L310.95 131.57 L311.12 131.00 L311.29 131.67 L311.46 131.31 L311.63 131.06 L311.80 132.56 L311.97 131.57 L312.14 132.00 L312.31 131.77 L312.48 131.34 L312.65 132.65 L312.82 132.72 L312.99 131.61 L313.16 131.98 L313.33 131.90" stroke="#3c3c3c" stroke-width="1.2" fill="none" stroke-linejoin="round"/>
<path d="M33.00 221.17 L33.17 221.44 L33.34 221.40 L33.51 220.47 L33.68 220.25 L33.85 221.44 L34.02 221.41 L34.19 222.24 L34.36 220.77 L34.53 222.30 L34.70 221.08 L34.87 221.76 L35.04 222.20 L35.21 221.03 L35.38 222.89 L35.55 222.99 L35.72 223.11 L35.89 221.00 L36.06 222.51 L36.23 222.64 L36.40 223.18 L36.57 221.69 L36.74 221.54 L36.91 223.08 L37.08 221.87 L37.25 221.45 L37.42 221.46 L37.59 222.66 L37.76 222.38 L37.93 222.82 L38.10 222.92 L38.27 221.07 L38.44 223.08 L38.61 222.91 L38.78 222.97 L38.95 222.58 L39.12 221.69 L39.29 221.38 L39.46 222.83 L39.63 221.73 L39.80 221.89 L39.97 222.35 L40.14 222.33 L40.31 222.36 L40.48 222.22 L40.65 221.99 L40.82 222.55 L40.99 221.72 L41.16 221.41 L41.33 222.79 L41.50 222.63 L41.67 222.30 L41.84 221.02 L42.01 220.70 L42.18 222.54 L42.35 222.48 L42.52 220.92 L42.69 221.59 L42.86 220.18 L43.03 220.88 L43.20 221.45 L43.37 220.64 L43.54 221.43 L43.71 221.33 L43.88 219.17 L44.05 218.95 L44.22 216.53 L44.39 214.07 L44.56 212.21 L44.70 211.60 L44.73 211.63 L44.90 212.94 L45.07 214.86 L45.24 217.17 L45.41 220.56 L45.58 220.94 L45.75 221.67 L45.92 221.46 L46.09 222.66 L46.26 222.20 L46.43 222.39 L46.60 221.76 L46.77 222.98 L46.94 221.86 L47.11 221.77 L47.28 222.78 L47.45 223.34 L47.62 222.18 L47.79 222.22 L47.96 221.88 L48.13 222.87 L48.30 223.20 L48.47 221.77 L48.64 222.62 L48.81 222.57 L48.98 221.56 L49.15 222.40 L49.32 221.73 L49.49 221.49 L49.66 223.10 L49.83 221.07 L50.00 221.49 L50.17 221.96 L50.34 221.41 L50.51 220.47 L50.68 222.19 L50.85 220.76 L51.02 221.05 L51.19 222.06 L51.36 222.13 L51.53 221.96 L51.70 220.87 L51.87 221.54 L52.04 221.78 L52.21 220.42 L52.38 222.08 L52.55 220.30 L52.72 221.54 L52.89 220.70 L53.06 220.69 L53.23 220.55 L53.40 222.31 L53.57 220.63 L53.74 222.32 L53.91 220.72 L54.08 221.05 L54.25 220.79 L54.42 222.35 L54.59 220.39 L54.76 221.92 L54.93 220.61 L55.10 221.89 L55.27 221.40 L55.44 220.27 L55.61 220.71 L55.78 219.86 L55.95 220.31 L56.12 219.44 L56.29 220.75 L56.46 220.55 L56.63 219.88 L56.80 219.39 L56.97 221.36 L57.14 219.69 L57.31 220.18 L57.48 219.62 L57.65 220.46 L57.82 220.62 L57.99 221.00 L58.16 220.68 L58.33 220.63 L58.50 221.84 L58.67 220.85 L58.84 221.03 L59.01 221.42 L59.18 220.97 L59.35 221.97 L59.52 220.59 L59.69 221.07 L59.86 221.21 L60.03 220.79 L60.20 221.95 L60.37 220.82 L60.54 220.85 L60.71 220.85 L60.88 221.53 L61.05 220.19 L61.22 221.40 L61.39 221.57 L61.56 220.11 L61.73 219.85 L61.90 221.13 L62.07 220.16 L62.24 220.01 L62.41 219.76 L62.58 220.91 L62.75 221.62 L62.92 221.59 L63.09 221.01 L63.26 220.73 L63.43 221.86 L63.60 221.24 L63.77 221.83 L63.94 221.23 L64.11 221.20 L64.28 221.13 L64.45 219.88 L64.62 220.04 L64.79 219.60 L64.96 221.35 L65.13 221.42 L65.30 220.62 L65.47 219.70 L65.64 219.67 L65.81 220.38 L65.98 220.39 L66.15 220.06 L66.32 219.99 L66.49 221.26 L66.66 221.73 L66.83 220.40 L67.00 221.05 L67.17 221.14 L67.34 221.70 L67.51 221.95 L67.68 221.62 L67.85 222.50 L68.02 221.26 L68.19 220.24 L68.36 219.08 L68.53 215.42 L68.70 210.02 L68.87 204.06 L69.04 200.76 L69.10 200.50 L69.21 201.46 L69.38 205.79 L69.55 211.55 L69.72 216.09 L69.89 220.40 L70.06 220.62 L70.23 222.12 L70.40 222.65 L70.57 223.05 L70.74 223.15 L70.91 222.37 L71.08 222.16 L71.25 223.61 L71.42 222.76 L71.59 222.19 L71.76 221.90 L71.93 223.25 L72.10 223.35 L72.27 222.80 L72.44 222.45 L72.61 222.99 L72.78 223.63 L72.95 222.83 L73.12 223.27 L73.29 223.49 L73.46 223.28 L73.63 222.81 L73.80 222.25 L73.97 223.37 L74.14 223.70 L74.31 224.04 L74.48 222.53 L74.65 222.55 L74.82 223.67 L74.99 224.10 L75.16 222.70 L75.33 223.83 L75.50 223.19 L75.67 224.73 L75.84 223.54 L76.01 223.04 L76.18 224.51 L76.35 223.63 L76.52 223.94 L76.69 223.44 L76.86 223.93 L77.03 223.58 L77.20 223.88 L77.37 224.57 L77.54 224.08 L77.71 224.87 L77.88 225.40 L78.05 224.82 L78.22 223.75 L78.39 225.63 L78.56 224.10 L78.73 224.36 L78.90 224.66 L79.07 224.80 L79.24 224.23 L79.41 224.34 L79.58 224.64 L79.75 224.20 L79.92 223.75 L80.09 223.93 L80.26 223.81 L80.43 223.54 L80.60 224.08 L80.77 223.91 L80.94 223.70 L81.11 224.24 L81.28 224.45 L81.45 224.13 L81.62 223.54 L81.79 224.77 L81.96 223.17 L82.13 224.61 L82.30 223.93 L82.47 223.92 L82.64 224.84 L82.81 224.50 L82.98 225.17 L83.15 225.02 L83.32 223.55 L83.49 224.37 L83.66 224.91 L83.83 223.65 L84.00 224.57 L84.17 225.51 L84.34 224.10 L84.51 223.90 L84.68 224.34 L84.85 224.54 L85.02 224.51 L85.19 224.93 L85.36 225.82 L85.53 225.34 L85.70 225.59 L85.87 224.78 L86.04 224.74 L86.21 226.33 L86.38 224.76 L86.55 224.55 L86.72 221.17 L86.89 217.91 L87.06 213.94 L87.23 211.33 L87.30 211.09 L87.40 211.66 L87.57 214.55 L87.74 218.68 L87.91 222.12 L88.08 224.65 L88.25 226.15 L88.42 226.46 L88.59 226.75 L88.76 227.17 L88.93 227.60 L89.10 226.43 L89.27 228.32 L89.44 227.25 L89.61 228.24 L89.78 226.54 L89.95 226.66 L90.12 226.77 L90.29 228.34 L90.46 227.38 L90.63 228.21 L90.80 227.94 L90.97 226.78 L91.14 227.30 L91.31 227.29 L91.48 227.50 L91.65 228.04 L91.82 226.73 L91.99 228.27 L92.16 227.34 L92.33 227.03 L92.50 227.46 L92.67 226.40 L92.84 226.56 L93.01 225.37 L93.18 224.53 L93.35 223.76 L93.50 223.57 L93.52 223.58 L93.69 223.94 L93.86 224.52 L94.03 225.53 L94.20 226.28 L94.37 225.26 L94.54 226.85 L94.71 225.05 L94.88 226.11 L95.05 225.42 L95.22 225.35 L95.39 225.81 L95.56 226.01 L95.73 225.66 L95.90 226.17 L96.07 226.61 L96.24 225.10 L96.41 225.20 L96.58 225.91 L96.75 225.55 L96.92 225.38 L97.09 225.76 L97.26 226.14 L97.43 226.53 L97.60 226.57 L97.77 226.33 L97.94 225.40 L98.11 226.16 L98.28 225.61 L98.45 224.40 L98.62 224.96 L98.79 223.30 L98.96 222.94 L99.13 221.94 L99.30 220.99 L99.47 219.85 L99.64 219.06 L99.81 218.39 L99.98 218.20 L100.00 218.19 L100.15 218.36 L100.32 218.86 L100.49 219.54 L100.66 220.50 L100.83 221.77 L101.00 222.67 L101.17 224.03 L101.34 224.52 L101.51 225.82 L101.68 226.23 L101.85 226.19 L102.02 226.24 L102.19 226.15 L102.36 226.42 L102.53 226.64 L102.70 226.73 L102.87 226.45 L103.04 227.06 L103.21 226.46 L103.38 227.93 L103.55 227.39 L103.72 226.59 L103.89 227.10 L104.06 226.99 L104.23 226.86 L104.40 227.53 L104.57 227.06 L104.74 227.02 L104.91 228.06 L105.08 227.57 L105.25 228.05 L105.42 227.68 L105.59 227.74 L105.76 227.36 L105.93 227.60 L106.10 227.70 L106.27 227.44 L106.44 228.34 L106.61 227.26 L106.78 227.20 L106.95 227.45 L107.12 228.33 L107.29 228.52 L107.46 228.04 L107.63 227.69 L107.80 228.27 L107.97 228.64 L108.14 227.57 L108.31 228.38 L108.48 228.50 L108.65 227.95 L108.82 227.55 L108.99 228.45 L109.16 227.75 L109.33 228.06 L109.50 228.40 L109.67 229.15 L109.84 227.62 L110.01 227.47 L110.18 228.32 L110.35 229.09 L110.52 227.39 L110.69 228.49 L110.86 227.34 L111.03 228.25 L111.20 227.43 L111.37 228.40 L111.54 227.78 L111.71 228.05 L111.88 226.75 L112.05 225.35 L112.22 223.96 L112.39 223.17 L112.40 223.17 L112.56 223.79 L112.73 225.46 L112.90 226.54 L113.07 227.75 L113.24 227.31 L113.41 227.40 L113.58 227.61 L113.75 227.80 L113.92 227.21 L114.09 225.93 L114.26 225.81 L114.43 223.32 L114.60 220.84 L114.77 217.64 L114.90 216.79 L114.94 216.87 L115.11 219.17 L115.28 222.00 L115.45 225.29 L115.62 226.80 L115.79 226.58 L115.96 227.35 L116.13 226.92 L116.30 226.86 L116.47 226.87 L116.64 226.50 L116.81 227.73 L116.98 226.64 L117.15 226.90 L117.32 226.72 L117.49 228.10 L117.66 227.60 L117.83 227.54 L118.00 227.77 L118.17 228.21 L118.34 227.89 L118.51 227.68 L118.68 227.32 L118.85 227.72 L119.02 228.58 L119.19 227.83 L119.36 227.69 L119.53 228.47 L119.70 226.99 L119.87 227.06 L120.04 228.46 L120.21 228.82 L120.38 227.29 L120.55 227.36 L120.72 227.48 L120.89 228.60 L121.06 227.92 L121.23 228.83 L121.40 229.11 L121.57 228.00 L121.74 229.66 L121.91 228.58 L122.08 229.23 L122.25 228.86 L122.42 228.83 L122.59 228.94 L122.76 228.14 L122.93 228.87 L123.10 228.54 L123.27 228.68 L123.44 228.28 L123.61 228.51 L123.78 229.14 L123.95 229.64 L124.12 228.16 L124.29 229.37 L124.46 228.99 L124.63 228.07 L124.80 227.92 L124.97 229.54 L125.14 228.38 L125.31 228.20 L125.48 229.23 L125.65 229.36 L125.82 229.75 L125.99 229.05 L126.16 228.77 L126.33 228.80 L126.50 228.57 L126.67 229.40 L126.84 229.97 L127.01 228.40 L127.18 228.94 L127.35 228.88 L127.52 228.45 L127.69 229.40 L127.86 230.13 L128.03 228.89 L128.20 229.72 L128.37 230.05 L128.54 228.95 L128.71 230.18 L128.88 229.97 L129.05 229.84 L129.22 229.06 L129.39 229.26 L129.56 228.99 L129.73 230.42 L129.90 230.31 L130.07 229.02 L130.24 229.80 L130.41 229.25 L130.58 230.26 L130.75 229.90 L130.92 230.55 L131.09 230.12 L131.26 229.00 L131.43 229.48 L131.60 229.81 L131.77 230.41 L131.94 229.42 L132.11 229.09 L132.28 229.25 L132.45 229.19 L132.62 228.97 L132.79 229.31 L132.96 229.14 L133.13 229.58 L133.30 230.29 L133.47 230.42 L133.64 228.97 L133.81 229.73 L133.98 229.90 L134.15 228.98 L134.32 229.68 L134.49 229.08 L134.66 229.40 L134.83 229.35 L135.00 230.25 L135.17 229.22 L135.34 229.82 L135.51 229.90 L135.68 229.40 L135.85 230.38 L136.02 229.14 L136.19 228.72 L136.36 228.29 L136.53 226.18 L136.70 223.81 L136.87 220.92 L137.04 219.42 L137.10 219.30 L137.21 219.72 L137.38 221.85 L137.55 224.02 L137.72 226.13 L137.89 228.42 L138.06 228.34 L138.23 228.20 L138.40 228.53 L138.57 229.58 L138.74 228.79 L138.91 229.37 L139.08 229.97 L139.25 229.66 L139.42 229.98 L139.59 230.50 L139.76 229.35 L139.93 230.42 L140.10 229.89 L140.27 229.33 L140.44 229.21 L140.61 229.58 L140.78 229.20 L140.95 230.29 L141.12 229.87 L141.29 228.86 L141.46 230.25 L141.63 229.68 L141.80 229.30 L141.97 228.68 L142.14 229.16 L142.31 229.87 L142.48 229.22 L142.65 228.92 L142.82 229.13 L142.99 228.97 L143.16 229.08 L143.33 228.33 L143.50 228.27 L143.67 228.03 L143.84 229.53 L144.01 228.14 L144.18 228.68 L144.35 229.37 L144.52 229.35 L144.69 230.20 L144.86 229.13 L145.03 229.10 L145.20 229.34 L145.37 230.11 L145.54 229.89 L145.71 230.34 L145.88 230.89 L146.05 230.42 L146.22 231.15 L146.39 230.11 L146.56 231.11 L146.73 231.82 L146.90 231.86 L147.07 231.24 L147.24 231.92 L147.41 230.58 L147.58 230.64 L147.75 230.83 L147.92 230.85 L148.09 231.27 L148.26 230.50 L148.43 229.68 L148.60 230.68 L148.77 229.75 L148.94 230.79 L149.11 229.53 L149.28 229.60 L149.45 229.26 L149.62 229.50 L149.79 229.97 L149.96 229.32 L150.13 228.91 L150.30 229.84 L150.47 230.08 L150.64 228.95 L150.81 229.47 L150.98 228.87 L151.15 228.78 L151.32 229.42 L151.49 229.28 L151.66 230.32 L151.83 228.89 L152.00 230.02 L152.17 230.24 L152.34 229.74 L152.51 229.94 L152.68 229.54 L152.85 229.61 L153.02 229.32 L153.19 230.88 L153.36 229.41 L153.53 229.63 L153.70 230.66 L153.87 230.23 L154.04 230.31 L154.21 229.93 L154.38 229.64 L154.55 230.71 L154.72 229.45 L154.89 229.67 L155.06 230.37 L155.23 229.48 L155.40 230.46 L155.57 228.98 L155.74 229.46 L155.91 229.35 L156.08 229.17 L156.25 229.54 L156.42 228.20 L156.59 228.95 L156.76 229.33 L156.93 228.03 L157.10 228.85 L157.27 228.69 L157.44 228.67 L157.61 228.97 L157.78 229.23 L157.95 229.47 L158.12 229.95 L158.29 229.69 L158.46 230.43 L158.63 230.01 L158.80 229.51 L158.97 229.44 L159.14 229.44 L159.31 229.89 L159.48 229.71 L159.65 230.74 L159.82 230.80 L159.99 230.72 L160.16 230.35 L160.33 230.51 L160.50 230.18 L160.67 231.32 L160.84 229.78 L161.01 230.29 L161.18 230.74 L161.35 230.12 L161.52 231.23 L161.69 230.52 L161.86 230.00 L162.03 228.70 L162.20 227.50 L162.37 225.68 L162.54 223.70 L162.70 223.00 L162.71 223.00 L162.88 223.92 L163.05 226.31 L163.22 228.62 L163.39 230.52 L163.56 231.88 L163.73 232.27 L163.90 231.62 L164.07 232.04 L164.24 231.47 L164.41 231.30 L164.58 231.24 L164.75 231.02 L164.92 231.14 L165.09 231.03 L165.26 231.72 L165.43 230.92 L165.60 230.53 L165.77 231.13 L165.94 230.72 L166.11 231.55 L166.28 230.74 L166.45 231.30 L166.62 230.65 L166.79 231.18 L166.96 231.85 L167.13 230.91 L167.30 231.28 L167.47 231.11 L167.64 230.44 L167.81 230.30 L167.98 231.58 L168.15 230.60 L168.32 231.05 L168.49 230.47 L168.66 231.02 L168.83 229.81 L169.00 230.18 L169.17 230.16 L169.34 230.48 L169.51 229.10 L169.68 229.58 L169.85 229.73 L170.02 229.91 L170.19 229.15 L170.36 229.87 L170.53 230.17 L170.70 230.32 L170.87 229.54 L171.04 230.06 L171.21 229.95 L171.38 230.23 L171.55 230.31 L171.72 231.41 L171.89 229.94 L172.06 231.56 L172.23 230.05 L172.40 230.11 L172.57 230.28 L172.74 230.36 L172.91 231.28 L173.08 231.18 L173.25 231.30 L173.42 230.33 L173.59 229.64 L173.76 230.54 L173.93 230.96 L174.10 229.54 L174.27 230.68 L174.44 229.32 L174.61 230.52 L174.78 230.14 L174.95 230.84 L175.12 230.75 L175.29 229.38 L175.46 229.97 L175.63 229.31 L175.80 229.01 L175.97 228.05 L176.14 227.54 L176.30 227.29 L176.31 227.29 L176.48 227.63 L176.65 228.60 L176.82 228.72 L176.99 230.35 L177.16 230.07 L177.33 229.78 L177.50 231.04 L177.67 230.24 L177.84 230.13 L178.01 229.97 L178.18 230.75 L178.35 229.43 L178.52 229.50 L178.69 229.54 L178.86 229.16 L179.03 230.39 L179.20 229.76 L179.37 229.92 L179.54 230.31 L179.71 229.62 L179.88 229.18 L180.05 229.44 L180.22 229.02 L180.39 227.98 L180.56 226.75 L180.73 225.44 L180.90 224.41 L181.00 224.20 L181.07 224.32 L181.24 225.26 L181.41 226.82 L181.58 228.12 L181.75 229.52 L181.92 230.08 L182.09 230.84 L182.26 231.30 L182.43 230.22 L182.60 231.12 L182.77 230.18 L182.94 230.23 L183.11 229.65 L183.28 230.77 L183.45 229.78 L183.62 230.18 L183.79 228.98 L183.96 229.95 L184.13 229.05 L184.30 229.33 L184.47 229.60 L184.64 228.74 L184.81 229.30 L184.98 229.80 L185.15 228.73 L185.32 229.28 L185.49 228.88 L185.66 228.89 L185.83 229.53 L186.00 229.57 L186.17 230.01 L186.34 230.47 L186.51 230.27 L186.68 229.75 L186.85 230.11 L187.02 230.50 L187.19 230.86 L187.36 230.65 L187.53 230.43 L187.70 229.90 L187.87 231.12 L188.04 230.21 L188.21 230.46 L188.38 231.28 L188.55 230.20 L188.72 231.35 L188.89 230.28 L189.06 230.02 L189.23 230.72 L189.40 231.18 L189.57 230.56 L189.74 231.29 L189.91 230.58 L190.08 231.28 L190.25 230.16 L190.42 230.43 L190.59 230.17 L190.76 231.21 L190.93 230.81 L191.10 231.14 L191.27 230.47 L191.44 231.29 L191.61 231.74 L191.78 230.34 L191.95 230.73 L192.12 231.60 L192.29 231.50 L192.46 231.42 L192.63 230.17 L192.80 230.02 L192.97 228.46 L193.14 227.41 L193.31 226.09 L193.48 225.40 L193.50 225.40 L193.65 225.81 L193.82 226.88 L193.99 228.12 L194.16 230.00 L194.33 229.64 L194.50 231.44 L194.67 231.44 L194.84 231.64 L195.01 231.35 L195.18 230.12 L195.35 230.31 L195.52 230.67 L195.69 230.50 L195.86 230.32 L196.03 231.71 L196.20 231.74 L196.37 231.55 L196.54 230.76 L196.71 231.71 L196.88 231.68 L197.05 230.91 L197.22 230.66 L197.39 230.72 L197.56 231.19 L197.73 231.91 L197.90 230.72 L198.07 231.31 L198.24 231.20 L198.41 232.06 L198.58 230.90 L198.75 231.72 L198.92 231.20 L199.09 231.71 L199.26 231.98 L199.43 232.02 L199.60 232.02 L199.77 231.12 L199.94 231.06 L200.11 230.76 L200.28 230.88 L200.45 230.60 L200.62 231.60 L200.79 230.32 L200.96 230.45 L201.13 231.32 L201.30 231.19 L201.47 231.39 L201.64 230.33 L201.81 229.71 L201.98 230.87 L202.15 229.98 L202.32 230.71 L202.49 229.39 L202.66 229.37 L202.83 230.25 L203.00 230.38 L203.17 230.17 L203.34 230.17 L203.51 230.31 L203.68 229.62 L203.85 229.55 L204.02 230.04 L204.19 230.40 L204.36 229.98 L204.53 229.90 L204.70 230.32 L204.87 230.28 L205.04 230.08 L205.21 231.11 L205.38 231.18 L205.55 229.75 L205.72 230.46 L205.89 230.09 L206.06 230.24 L206.23 229.77 L206.40 229.87 L206.57 229.83 L206.74 229.99 L206.91 230.87 L207.08 230.02 L207.25 231.34 L207.42 231.26 L207.59 230.48 L207.76 231.26 L207.93 231.75 L208.10 230.47 L208.27 231.25 L208.44 231.18 L208.61 230.95 L208.78 230.98 L208.95 230.69 L209.12 231.62 L209.29 230.93 L209.46 231.34 L209.63 232.16 L209.80 231.28 L209.97 231.27 L210.14 232.30 L210.31 231.77 L210.48 231.84 L210.65 231.30 L210.82 232.06 L210.99 231.69 L211.16 232.02 L211.33 231.87 L211.50 231.44 L211.67 232.75 L211.84 232.49 L212.01 232.99 L212.18 231.95 L212.35 231.91 L212.52 231.69 L212.69 231.93 L212.86 231.92 L213.03 231.64 L213.20 231.70 L213.37 231.66 L213.54 232.44 L213.71 231.70 L213.88 232.24 L214.05 230.94 L214.22 231.13 L214.39 232.28 L214.56 230.80 L214.73 230.81 L214.90 231.53 L215.07 231.17 L215.24 231.07 L215.41 231.78 L215.58 231.83 L215.75 231.22 L215.92 231.86 L216.09 231.75 L216.26 232.41 L216.43 231.22 L216.60 231.52 L216.77 232.05 L216.94 231.22 L217.11 232.49 L217.28 232.63 L217.45 231.59 L217.62 232.21 L217.79 231.29 L217.96 232.13 L218.13 230.66 L218.30 229.78 L218.47 228.97 L218.64 228.17 L218.81 227.38 L218.90 227.28 L218.98 227.38 L219.15 228.12 L219.32 229.23 L219.49 230.03 L219.66 231.34 L219.83 231.49 L220.00 231.21 L220.17 231.05 L220.34 230.83 L220.51 231.10 L220.68 231.15 L220.85 230.72 L221.02 232.04 L221.19 230.98 L221.36 231.38 L221.53 230.57 L221.70 231.29 L221.87 231.42 L222.04 230.48 L222.21 231.88 L222.38 230.55 L222.55 230.69 L222.72 231.44 L222.89 230.78 L223.06 231.64 L223.23 230.64 L223.40 230.63 L223.57 230.80 L223.74 229.92 L223.91 227.55 L224.08 222.76 L224.25 217.54 L224.42 212.41 L224.59 210.10 L224.60 210.09 L224.76 212.01 L224.93 217.01 L225.10 222.17 L225.27 226.62 L225.44 229.25 L225.61 231.36 L225.78 231.15 L225.95 231.56 L226.12 232.09 L226.29 231.31 L226.46 232.18 L226.63 231.16 L226.80 230.73 L226.97 230.85 L227.14 231.79 L227.31 231.27 L227.48 232.01 L227.65 231.52 L227.82 231.70 L227.99 231.15 L228.16 231.46 L228.33 231.59 L228.50 231.07 L228.67 231.24 L228.84 231.78 L229.01 231.87 L229.18 230.95 L229.35 230.50 L229.52 231.72 L229.69 231.12 L229.86 231.98 L230.03 231.69 L230.20 231.07 L230.37 231.88 L230.54 231.42 L230.71 231.69 L230.88 231.99 L231.05 231.53 L231.22 232.10 L231.39 231.24 L231.56 231.21 L231.73 231.63 L231.90 231.24 L232.07 231.69 L232.24 231.41 L232.41 231.70 L232.58 231.85 L232.75 231.41 L232.92 231.98 L233.09 231.80 L233.26 231.98 L233.43 230.70 L233.60 230.74 L233.77 231.80 L233.94 231.39 L234.11 232.31 L234.28 231.64 L234.45 232.24 L234.62 231.52 L234.79 232.16 L234.96 232.61 L235.13 232.55 L235.30 231.79 L235.47 231.99 L235.64 232.06 L235.81 231.73 L235.98 231.96 L236.15 232.69 L236.32 232.51 L236.49 231.58 L236.66 232.13 L236.83 232.48 L237.00 231.50 L237.17 232.23 L237.34 232.08 L237.51 232.16 L237.68 230.84 L237.85 232.02 L238.02 232.05 L238.19 230.78 L238.36 231.30 L238.53 230.32 L238.70 231.04 L238.87 231.08 L239.04 231.02 L239.21 231.09 L239.38 230.09 L239.55 229.68 L239.72 230.71 L239.89 229.38 L240.06 229.66 L240.23 229.65 L240.40 230.48 L240.57 229.97 L240.74 230.62 L240.91 230.42 L241.08 230.77 L241.25 230.76 L241.42 231.05 L241.59 230.22 L241.76 230.49 L241.93 231.07 L242.10 231.14 L242.27 231.56 L242.44 231.73 L242.61 231.05 L242.78 230.83 L242.95 231.88 L243.12 231.86 L243.29 231.22 L243.46 230.89 L243.63 230.80 L243.80 231.12 L243.97 231.09 L244.14 230.94 L244.31 230.62 L244.48 230.76 L244.65 230.98 L244.82 230.52 L244.99 230.62 L245.16 230.93 L245.33 231.54 L245.50 231.55 L245.67 230.80 L245.84 230.37 L246.01 230.58 L246.18 231.19 L246.35 230.76 L246.52 231.01 L246.69 231.21 L246.86 231.06 L247.03 231.34 L247.20 230.06 L247.37 230.30 L247.54 229.86 L247.71 230.55 L247.88 230.62 L248.05 230.01 L248.22 229.61 L248.39 230.21 L248.56 229.68 L248.73 229.66 L248.90 229.94 L249.07 230.79 L249.24 229.92 L249.41 230.46 L249.58 229.95 L249.75 230.04 L249.92 229.69 L250.09 229.83 L250.26 230.79 L250.43 230.31 L250.60 230.06 L250.77 231.02 L250.94 230.50 L251.11 228.66 L251.28 226.95 L251.45 223.46 L251.62 217.22 L251.79 209.78 L251.96 201.42 L252.13 194.84 L252.30 192.20 L252.30 192.20 L252.47 194.78 L252.64 201.46 L252.81 209.61 L252.98 218.11 L253.15 223.98 L253.32 226.73 L253.49 229.40 L253.66 230.21 L253.83 230.97 L254.00 230.75 L254.17 231.80 L254.34 230.71 L254.51 231.70 L254.68 230.89 L254.85 231.54 L255.02 231.23 L255.19 231.41 L255.36 231.45 L255.53 231.61 L255.70 230.78 L255.87 230.74 L256.04 232.14 L256.21 231.01 L256.38 231.11 L256.55 230.86 L256.72 231.46 L256.89 231.92 L257.06 230.94 L257.23 230.77 L257.40 230.73 L257.57 230.20 L257.74 230.20 L257.91 230.08 L258.08 230.48 L258.25 231.51 L258.42 230.16 L258.59 230.78 L258.76 230.25 L258.93 229.97 L259.10 231.26 L259.27 230.13 L259.44 230.20 L259.61 231.29 L259.78 230.47 L259.95 230.45 L260.12 231.62 L260.29 230.50 L260.46 231.55 L260.63 230.77 L260.80 231.24 L260.97 230.86 L261.14 230.99 L261.31 231.96 L261.48 231.96 L261.65 230.87 L261.82 231.75 L261.99 230.86 L262.16 231.16 L262.33 230.82 L262.50 231.69 L262.67 231.83 L262.84 231.83 L263.01 231.87 L263.18 231.23 L263.35 230.82 L263.52 230.50 L263.69 231.14 L263.86 231.85 L264.03 231.07 L264.20 231.29 L264.37 231.70 L264.54 231.62 L264.71 231.38 L264.88 231.14 L265.05 230.59 L265.22 231.42 L265.39 230.97 L265.56 231.46 L265.73 230.77 L265.90 231.94 L266.07 230.81 L266.24 231.89 L266.41 232.11 L266.58 231.00 L266.75 232.16 L266.92 231.85 L267.09 231.79 L267.26 231.25 L267.43 231.37 L267.60 231.22 L267.77 231.51 L267.94 231.78 L268.11 231.85 L268.28 231.74 L268.45 231.16 L268.62 231.13 L268.79 231.72 L268.96 231.98 L269.13 230.77 L269.30 231.01 L269.47 230.77 L269.64 231.82 L269.81 230.31 L269.98 231.61 L270.15 231.41 L270.32 230.68 L270.49 231.17 L270.66 230.62 L270.83 230.99 L271.00 230.59 L271.17 231.28 L271.34 230.50 L271.51 230.97 L271.68 230.54 L271.85 230.17 L272.02 230.93 L272.19 229.70 L272.36 230.61 L272.53 230.59 L272.70 230.20 L272.87 229.70 L273.04 229.52 L273.21 229.61 L273.38 228.81 L273.55 228.86 L273.72 228.41 L273.89 228.06 L274.06 227.44 L274.23 227.17 L274.40 226.66 L274.57 226.39 L274.74 226.19 L274.91 226.06 L275.08 225.99 L275.10 225.99 L275.25 226.03 L275.42 226.17 L275.59 226.49 L275.76 226.77 L275.93 227.10 L276.10 227.79 L276.27 227.98 L276.44 228.98 L276.61 228.91 L276.78 229.89 L276.95 229.92 L277.12 230.80 L277.29 230.33 L277.46 231.34 L277.63 230.66 L277.80 230.98 L277.97 231.33 L278.14 231.23 L278.31 231.43 L278.48 231.47 L278.65 230.79 L278.82 230.39 L278.99 231.45 L279.16 231.21 L279.33 231.14 L279.50 231.05 L279.67 231.76 L279.84 230.85 L280.01 231.86 L280.18 230.80 L280.35 231.71 L280.52 232.20 L280.69 231.10 L280.86 232.19 L281.03 231.57 L281.20 231.34 L281.37 231.99 L281.54 232.49 L281.71 231.95 L281.88 233.04 L282.05 231.64 L282.22 232.10 L282.39 232.22 L282.56 232.25 L282.73 232.09 L282.90 231.62 L283.07 231.88 L283.24 231.90 L283.41 232.45 L283.58 231.91 L283.75 232.38 L283.92 231.90 L284.09 231.66 L284.26 231.33 L284.43 231.37 L284.60 232.33 L284.77 231.60 L284.94 231.30 L285.11 231.08 L285.28 232.05 L285.45 231.74 L285.62 231.70 L285.79 231.82 L285.96 230.93 L286.13 231.63 L286.30 230.58 L286.47 231.49 L286.64 230.97 L286.81 231.50 L286.98 230.80 L287.15 231.03 L287.32 231.55 L287.49 231.99 L287.66 231.14 L287.83 230.95 L288.00 230.99 L288.17 231.88 L288.34 232.31 L288.51 231.06 L288.68 231.68 L288.85 231.52 L289.02 232.82 L289.19 231.64 L289.36 231.62 L289.53 232.76 L289.70 233.16 L289.87 232.86 L290.04 231.86 L290.21 232.33 L290.38 232.50 L290.55 233.07 L290.72 232.81 L290.89 231.71 L291.06 232.29 L291.23 232.73 L291.40 232.33 L291.57 232.47 L291.74 232.89 L291.91 232.87 L292.08 232.62 L292.25 232.21 L292.42 231.78 L292.59 231.53 L292.76 231.52 L292.93 232.24 L293.10 232.42 L293.27 232.54 L293.44 232.62 L293.61 231.62 L293.78 231.65 L293.95 231.43 L294.12 231.90 L294.29 232.48 L294.46 232.19 L294.63 231.67 L294.80 231.22 L294.97 232.23 L295.14 232.26 L295.31 232.01 L295.48 231.25 L295.65 231.36 L295.82 231.59 L295.99 232.08 L296.16 231.02 L296.33 231.22 L296.50 230.63 L296.67 230.47 L296.84 230.78 L297.01 231.59 L297.18 231.30 L297.35 230.92 L297.52 230.72 L297.69 230.43 L297.86 231.11 L298.03 230.57 L298.20 229.69 L298.37 230.02 L298.54 229.11 L298.71 223.96 L298.88 216.69 L299.05 201.35 L299.22 183.45 L299.39 168.64 L299.50 164.48 L299.56 164.54 L299.73 171.63 L299.90 181.27 L300.07 185.89 L300.24 185.74 L300.40 186.40 L300.41 186.60 L300.58 193.60 L300.75 205.16 L300.92 216.26 L301.09 223.87 L301.26 228.18 L301.43 228.97 L301.60 229.43 L301.77 229.61 L301.94 230.52 L302.11 230.27 L302.28 230.91 L302.45 231.11 L302.62 229.73 L302.79 229.90 L302.96 229.35 L303.13 228.22 L303.30 226.30 L303.47 223.13 L303.64 220.51 L303.80 219.57 L303.81 219.58 L303.98 220.82 L304.15 223.31 L304.32 226.47 L304.49 228.62 L304.66 230.18 L304.83 230.72 L305.00 231.02 L305.17 231.37 L305.34 230.53 L305.51 231.54 L305.68 231.40 L305.85 231.54 L306.02 231.15 L306.19 230.72 L306.36 232.09 L306.53 232.01 L306.70 232.34 L306.87 231.69 L307.04 232.44 L307.21 232.53 L307.38 232.11 L307.55 232.73 L307.72 232.68 L307.89 231.66 L308.06 231.76 L308.23 232.23 L308.40 232.45 L308.57 232.67 L308.74 232.55 L308.91 233.02 L309.08 232.90 L309.25 231.83 L309.42 232.17 L309.59 232.95 L309.76 232.69 L309.93 231.53 L310.10 232.41 L310.27 231.59 L310.44 232.16 L310.61 232.87 L310.78 231.40 L310.95 232.50 L311.12 231.95 L311.29 232.67 L311.46 232.44 L311.63 231.16 L311.80 231.99 L311.97 232.24 L312.14 231.27 L312.31 231.89 L312.48 231.14 L312.65 231.02 L312.82 231.16 L312.99 231.05 L313.16 232.02 L313.33 230.86" stroke="#3c3c3c" stroke-width="1.2" fill="none" stroke-linejoin="round"/>
<text x="45.3" y="109.6" class="pk" fill="#1c1cf0" stroke="#1c1cf0">Fo</text>
<text x="56.9" y="105.0" class="pk" fill="#1f8c1f" stroke="#1f8c1f">En</text>
<text x="66.2" y="110.5" class="pk" fill="#111" stroke="#111">Ab</text>
<text x="73.2" y="99.4" class="pk" fill="#1c1cf0" stroke="#1c1cf0">Fo</text>
<text x="80.3" y="117.6" class="pk" fill="#111" stroke="#111">Ab</text>
<text x="86.5" y="107.8" class="pk" fill="#1c1cf0" stroke="#1c1cf0">Fo</text>
<text x="94.0" y="70.4" class="pk" fill="#1f8c1f" stroke="#1f8c1f">En</text>
<text x="100.9" y="101.0" class="pk" fill="#1f8c1f" stroke="#1f8c1f">En</text>
<text x="112.5" y="111.4" class="pk" fill="#1f8c1f" stroke="#1f8c1f">En</text>
<text x="121.0" y="119.1" class="pk" fill="#111" stroke="#111">Ab</text>
<text x="125.5" y="110.7" class="pk" fill="#1f8c1f" stroke="#1f8c1f">En</text>
<text x="138.3" y="88.2" class="pk" fill="#1c1cf0" stroke="#1c1cf0">Fo</text>
<text x="138.4" y="97.6" class="pk" fill="#1f8c1f" stroke="#1f8c1f">En</text>
<text x="145.8" y="111.2" class="pk" fill="#1f8c1f" stroke="#1f8c1f">En</text>
<text x="146.0" y="119.1" class="pk" fill="#111" stroke="#111">Ab</text>
<text x="154.0" y="124.6" class="pk" fill="#111" stroke="#111">Ab</text>
<text x="164.6" y="110.6" class="pk" fill="#1f8c1f" stroke="#1f8c1f">En</text>
<text x="177.6" y="112.6" class="pk" fill="#1f8c1f" stroke="#1f8c1f">En</text>
<text x="186.6" y="119.3" class="pk" fill="#1f8c1f" stroke="#1f8c1f">En</text>
<text x="193.5" y="112.6" class="pk" fill="#1f8c1f" stroke="#1f8c1f">En</text>
<text x="210.2" y="50.0" class="pk" fill="#1f8c1f" stroke="#1f8c1f">En</text>
<text x="204.4" y="90.1" class="pk" fill="#111" stroke="#111">Ab</text>
<text x="219.9" y="116.2" class="pk" fill="#1f8c1f" stroke="#1f8c1f">En</text>
<text x="227.3" y="110.6" class="pk" fill="#1c1cf0" stroke="#1c1cf0">Fo</text>
<text x="216.2" y="123.8" class="pk" fill="#111" stroke="#111">Ab</text>
<text x="233.0" y="126.6" class="pk" fill="#111" stroke="#111">Ab</text>
<text x="242.0" y="113.1" class="pk" fill="#1c1cf0" stroke="#1c1cf0">Fo</text>
<text x="249.6" y="122.7" class="pk" fill="#1f8c1f" stroke="#1f8c1f">En</text>
<text x="257.0" y="113.4" class="pk" fill="#1c1cf0" stroke="#1c1cf0">Fo</text>
<text x="265.9" y="122.0" class="pk" fill="#1c1cf0" stroke="#1c1cf0">Fo</text>
<text x="276.3" y="117.5" class="pk" fill="#1f8c1f" stroke="#1f8c1f">En</text>
<text x="282.8" y="124.6" class="pk" fill="#1c1cf0" stroke="#1c1cf0">Fo</text>
<text x="299.6" y="99.6" class="pk" fill="#1f8c1f" stroke="#1f8c1f">En</text>
<text x="305.0" y="90.4" class="pk" fill="#1f8c1f" stroke="#1f8c1f">En</text>
<text x="44.8" y="205.3" class="pk" fill="#1c1cf0" stroke="#1c1cf0">Fo</text>
<text x="56.6" y="214.1" class="pk" fill="#1f8c1f" stroke="#1f8c1f">En</text>
<text x="69.8" y="193.9" class="pk" fill="#111" stroke="#111">Ab</text>
<text x="87.0" y="204.1" class="pk" fill="#1c1cf0" stroke="#1c1cf0">Fo</text>
<text x="93.8" y="219.9" class="pk" fill="#1f8c1f" stroke="#1f8c1f">En</text>
<text x="101.0" y="203.2" class="pk" fill="#111" stroke="#111">Ab</text>
<text x="101.6" y="211.8" class="pk" fill="#1f8c1f" stroke="#1f8c1f">En</text>
<text x="113.5" y="211.1" class="pk" fill="#1f8c1f" stroke="#1f8c1f">En</text>
<text x="125.9" y="210.7" class="pk" fill="#1f8c1f" stroke="#1f8c1f">En</text>
<text x="121.3" y="220.5" class="pk" fill="#111" stroke="#111">Ab</text>
<text x="139.0" y="202.7" class="pk" fill="#1c1cf0" stroke="#1c1cf0">Fo</text>
<text x="139.0" y="214.3" class="pk" fill="#1f8c1f" stroke="#1f8c1f">En</text>
<text x="162.8" y="217.1" class="pk" fill="#1f8c1f" stroke="#1f8c1f">En</text>
<text x="174.8" y="223.8" class="pk" fill="#1f8c1f" stroke="#1f8c1f">En</text>
<text x="183.2" y="217.1" class="pk" fill="#1f8c1f" stroke="#1f8c1f">En</text>
<text x="194.0" y="221.4" class="pk" fill="#1f8c1f" stroke="#1f8c1f">En</text>
<text x="213.6" y="227.2" class="pk" fill="#111" stroke="#111">Ab</text>
<text x="219.0" y="219.5" class="pk" fill="#1f8c1f" stroke="#1f8c1f">En</text>
<text x="226.0" y="201.1" class="pk" fill="#1c1cf0" stroke="#1c1cf0">Fo</text>
<text x="233.9" y="225.1" class="pk" fill="#111" stroke="#111">Ab</text>
<text x="245.0" y="225.1" class="pk" fill="#1f8c1f" stroke="#1f8c1f">En</text>
<text x="252.0" y="186.8" class="pk" fill="#1f8c1f" stroke="#1f8c1f">En</text>
<text x="278.0" y="220.1" class="pk" fill="#1f8c1f" stroke="#1f8c1f">En</text>
<text x="300.8" y="159.7" class="pk" fill="#1f8c1f" stroke="#1f8c1f">En</text>
<text x="308.0" y="214.7" class="pk" fill="#1f8c1f" stroke="#1f8c1f">En</text>
<path d="M411.46 212.60L615.14 212.60 M436.92 256.60L538.76 80.60 M436.92 256.60L411.46 212.60 M436.92 168.60L589.68 168.60 M487.84 256.60L564.22 124.60 M487.84 256.60L436.92 168.60 M462.38 124.60L564.22 124.60 M538.76 256.60L589.68 168.60 M538.76 256.60L462.38 124.60 M487.84 80.60L538.76 80.60 M589.68 256.60L615.14 212.60 M589.68 256.60L487.84 80.60" stroke="#999" stroke-width="0.9" fill="none"/>
<path d="M386.00 256.60L640.60 256.60L513.30 36.60Z" stroke="#000" stroke-width="1.7" fill="none" stroke-linejoin="miter"/>
<path d="M513.30 36.60l-2.00 -3.46 M640.60 256.60l5.00 0 M386.00 256.60l-2.00 3.46 M487.84 80.60l-2.00 -3.46 M615.14 212.60l5.00 0 M436.92 256.60l-2.00 3.46 M462.38 124.60l-2.00 -3.46 M589.68 168.60l5.00 0 M487.84 256.60l-2.00 3.46 M436.92 168.60l-2.00 -3.46 M564.22 124.60l5.00 0 M538.76 256.60l-2.00 3.46 M411.46 212.60l-2.00 -3.46 M538.76 80.60l5.00 0 M589.68 256.60l-2.00 3.46 M386.00 256.60l-2.00 -3.46 M513.30 36.60l5.00 0 M640.60 256.60l-2.00 3.46" stroke="#000" stroke-width="1.5" fill="none"/>
<text x="502.60" y="27.80" class="tt">0,0</text>
<text x="656.20" y="260.20" class="tt">0,0</text>
<text x="382.70" y="271.10" class="tt">0,0</text>
<text x="477.14" y="71.80" class="tt">0,2</text>
<text x="630.74" y="216.20" class="tt">0,2</text>
<text x="433.62" y="271.10" class="tt">0,2</text>
<text x="451.68" y="115.80" class="tt">0,4</text>
<text x="605.28" y="172.20" class="tt">0,4</text>
<text x="484.54" y="271.10" class="tt">0,4</text>
<text x="426.22" y="159.80" class="tt">0,6</text>
<text x="579.82" y="128.20" class="tt">0,6</text>
<text x="535.46" y="271.10" class="tt">0,6</text>
<text x="400.76" y="203.80" class="tt">0,8</text>
<text x="554.36" y="84.20" class="tt">0,8</text>
<text x="586.38" y="271.10" class="tt">0,8</text>
<text x="375.30" y="247.80" class="tt">1,0</text>
<text x="528.90" y="40.20" class="tt">1,0</text>
<text x="637.30" y="271.10" class="tt">1,0</text>
<text transform="translate(515.75 12.1) scale(0.93 1)" class="cn">K</text>
<text transform="translate(357.8 269.5) scale(0.93 1)" class="cn">Na</text>
<text transform="translate(667.4 269.6) scale(0.93 1)" class="cn" style="text-anchor:start">Ca</text>
<text transform="translate(513.3 287.4) scale(0.946 1)" class="ax tx">% An</text>
<text transform="translate(422.7 135.5) rotate(-60) scale(0.946 1)" class="ax tx">% Ab</text>
<text transform="translate(603.8 136.5) rotate(60) scale(0.946 1)" class="ax tx">% Or</text>
<circle cx="409.3" cy="216.6" r="3.7" fill="#0a0aff"/>
<circle cx="426.2" cy="227.0" r="3.6" fill="#0a0aff"/>
<circle cx="451.0" cy="243.6" r="3.6" fill="#0a0aff"/>
<circle cx="401.6" cy="250.6" r="3.7" fill="#0a0aff"/>
<circle cx="404.1" cy="249.6" r="3.7" fill="#0a0aff"/>
</svg>
</body></html>
